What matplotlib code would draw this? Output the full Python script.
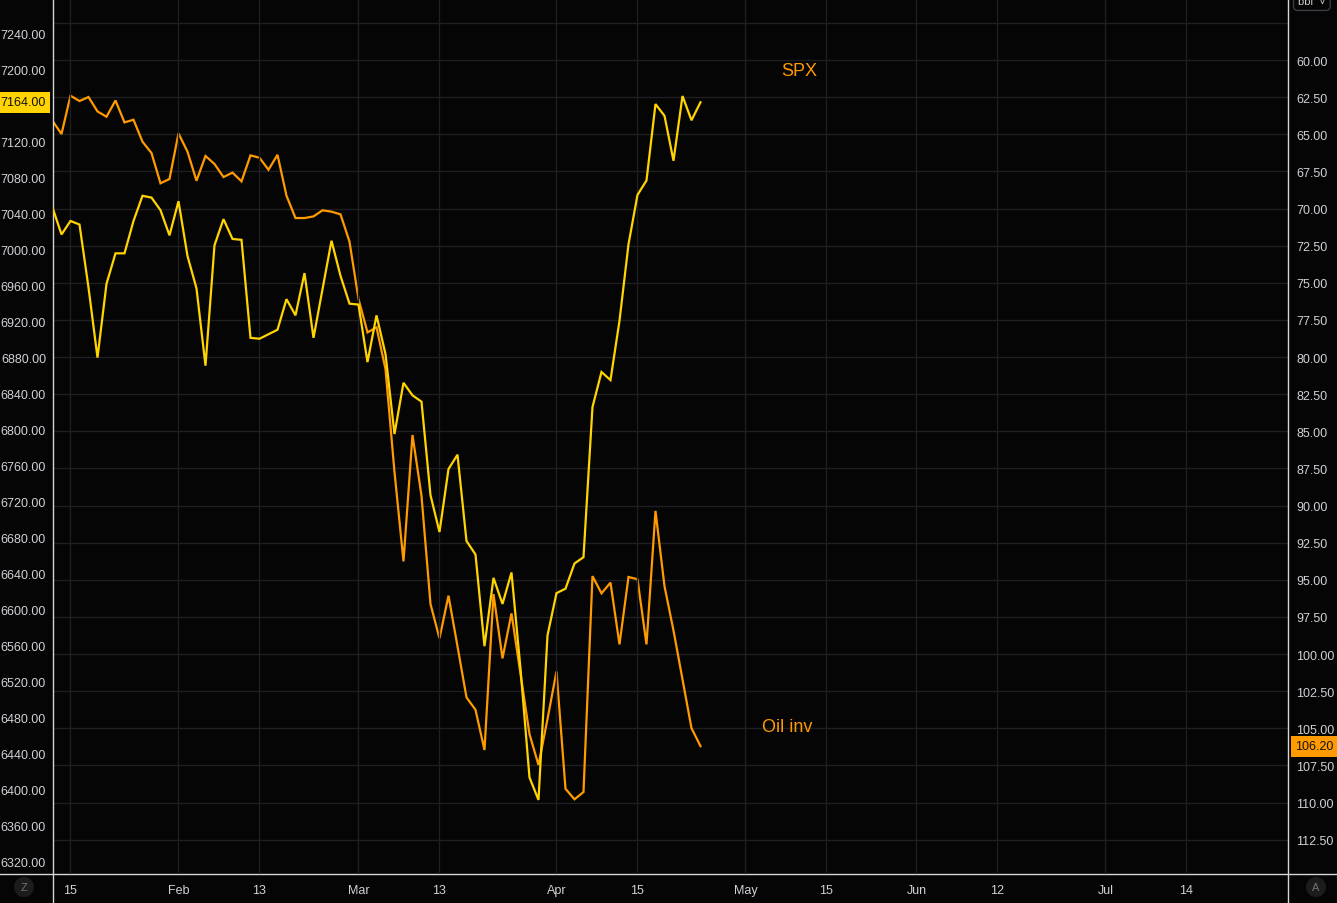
import numpy as np
import matplotlib
matplotlib.use('Agg')
import matplotlib.pyplot as plt
from matplotlib.lines import Line2D
from matplotlib.transforms import blended_transform_factory, offset_copy

# daily bars, index 0 = Jan 15
bars = np.arange(-2, 71)

spx = [7047, 7017, 7032, 7028, 6958, 6880, 6962, 6996, 6996, 7032,
       7060, 7058, 7044, 7016, 7054, 6993, 6957, 6871, 7005, 7034,
       7012, 7011, 6902, 6901, 6906, 6911, 6945, 6927, 6974, 6902,
       6956, 7010, 6971, 6940, 6939, 6875, 6927, 6884, 6795, 6852,
       6838, 6831, 6727, 6686, 6756, 6772, 6676, 6661, 6559, 6635,
       6606, 6641, 6534, 6413, 6388, 6571, 6618, 6623, 6651, 6658,
       6825, 6864, 6855, 6921, 7006, 7061, 7077, 7162, 7149, 7099,
       7171, 7144, 7164]

oil_inv = [64.09, 64.98, 62.40, 62.76, 62.49, 63.46, 63.82, 62.72, 64.20, 64.02,
           65.50, 66.26, 68.30, 68.01, 64.94, 66.17, 68.13, 66.46, 67.00, 67.88,
           67.58, 68.17, 66.42, 66.58, 67.39, 66.38, 69.14, 70.64, 70.64, 70.53,
           70.12, 70.21, 70.39, 72.23, 76.09, 78.34, 78.00, 80.81, 87.74, 93.76,
           85.25, 89.34, 96.63, 98.94, 96.07, 99.48, 102.92, 103.75, 106.46, 95.96,
           100.29, 97.26, 101.33, 105.39, 107.47, 104.38, 101.17, 109.07, 109.78, 109.29,
           94.75, 95.91, 95.19, 99.35, 94.81, 94.96, 99.35, 90.36, 95.43, 98.41,
           101.70, 104.99, 106.20]

date_ticks = [0, 12, 21, 32, 41, 54, 63, 75, 84, 94, 103, 115, 124]
date_labels = ['15', 'Feb', '13', 'Mar', '13', 'Apr', '15', 'May', '15', 'Jun', '12', 'Jul', '14']
spx_ticks = np.arange(6320, 7241, 40)
oil_ticks = np.arange(57.5, 113, 2.5)

BG = '#050505'
GRID = '#1e1e23'
TXT = '#cfd1d6'
AXL = '#d6d6d6'
YEL = '#FFD400'
ORG = '#FF9A00'

plt.rcParams['font.family'] = ['Liberation Sans', 'DejaVu Sans']

W, H = 1337, 904
fig = plt.figure(figsize=(W / 100, H / 100), dpi=100, facecolor=BG)
ax = fig.add_axes([53 / W, 29 / H, 1235 / W, 875 / H])
ax2 = ax.twinx()
ax.set_zorder(2)
ax.patch.set_visible(False)
ax2.set_facecolor(BG)

ax2.plot(bars, oil_inv, color=ORG, lw=1.6, solid_joinstyle='miter')
ax.plot(bars, spx, color=YEL, lw=1.6, solid_joinstyle='miter')

ax.set_xlim(-1.944, 135.28)
ax.set_ylim(6305.6, 7278.9)
ax2.set_ylim(114.81, 55.89)

ax.set_xticks(date_ticks)
ax.set_xticklabels(date_labels)
ax.set_yticks(spx_ticks)
ax.set_yticklabels([f'{v:.2f}' for v in spx_ticks])
ax2.set_yticks(oil_ticks)
ax2.set_yticklabels(['' if v < 60 else f'{v:.2f}' for v in oil_ticks])

ax.grid(axis='x', color=GRID, lw=1)
ax.set_axisbelow(True)
ax2.grid(axis='y', color=GRID, lw=1)

for a in (ax, ax2):
    for s in a.spines.values():
        s.set_visible(False)
ax.tick_params(axis='y', length=0, pad=5, labelsize=9, labelcolor=TXT)
ax.tick_params(axis='x', length=0, pad=7, labelsize=9, labelcolor=TXT)
ax2.tick_params(axis='y', length=0, pad=6, labelsize=9, labelcolor=TXT)

# frame lines like the trading terminal
fig.add_artist(Line2D([53 / W, 53 / W], [0, 1], color=AXL, lw=1))
fig.add_artist(Line2D([1288 / W, 1288 / W], [0, 1], color=AXL, lw=1))
fig.add_artist(Line2D([0, 1], [29 / H, 29 / H], color=AXL, lw=1))

# last value labels on the price scales
tl = blended_transform_factory(ax.transAxes, ax.transData)
ax.text(0, spx[-1], f'{spx[-1]:.2f}', transform=offset_copy(tl, fig=fig, x=-7, y=0, units='dots'),
        ha='right', va='center', fontsize=9, color='#131313', zorder=10, clip_on=False,
        bbox=dict(boxstyle='square,pad=0.35', fc=YEL, ec='none'))
tr = blended_transform_factory(ax2.transAxes, ax2.transData)
ax2.text(1, oil_inv[-1], f'{oil_inv[-1]:.2f}', transform=offset_copy(tr, fig=fig, x=7, y=0, units='dots'),
         ha='left', va='center', fontsize=9, color='#131313', zorder=10, clip_on=False,
         bbox=dict(boxstyle='square,pad=0.35', fc=ORG, ec='none'))

# series names
ax.text(81, 7199, 'SPX', color=ORG, fontsize=13, ha='center', va='center')
ax2.text(79.6, 104.9, 'Oil inv', color=ORG, fontsize=13, ha='center', va='center')

# small corner buttons
fig.text(24 / W, 1 - 888 / H, 'Z', color='#6f7178', fontsize=8, ha='center', va='center',
         bbox=dict(boxstyle='circle,pad=0.45', fc='#1c1c1c', ec='none'))
fig.text(1316 / W, 1 - 888 / H, 'A', color='#6f7178', fontsize=8, ha='center', va='center',
         bbox=dict(boxstyle='circle,pad=0.45', fc='#1c1c1c', ec='none'))
fig.text(1298 / W, 1 - 2 / H, 'bbl  \u02c5', color='#c9cbd0', fontsize=8, ha='left', va='center',
         bbox=dict(boxstyle='round,pad=0.4', fc=BG, ec='#3a3c44'))

fig.savefig('out.png', dpi=100, facecolor=BG)
